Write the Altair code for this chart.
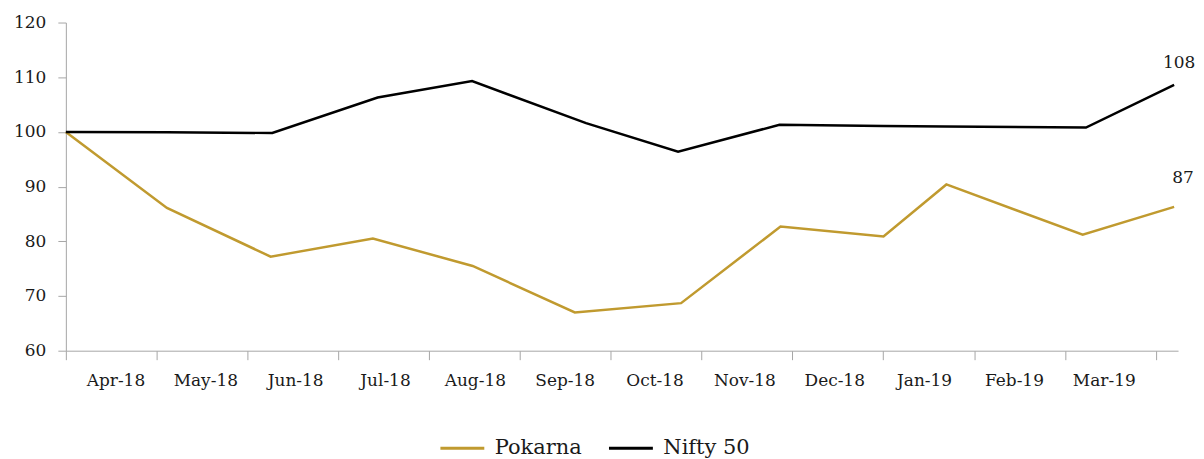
import altair as alt
import pandas as pd

# Month labels on the x axis (one per month interval)
months = ["Apr-18", "May-18", "Jun-18", "Jul-18", "Aug-18", "Sep-18",
          "Oct-18", "Nov-18", "Dec-18", "Jan-19", "Feb-19", "Mar-19"]

# Position of each observation, in months since the start of Apr-18
pokarna_t = [0, 1.113, 2.255, 3.381, 4.479, 5.604, 6.774, 7.869, 9.003, 9.695, 11.196, 12.203]
pokarna_v = [100, 86.1, 77.2, 80.5, 75.5, 67.0, 68.7, 82.7, 80.9, 90.4, 81.2, 86.3]

nifty_t = [0, 1.113, 2.273, 3.433, 4.473, 5.728, 6.741, 7.858, 9.0, 9.677, 11.232, 12.203]
nifty_v = [100, 99.95, 99.8, 106.3, 109.3, 101.6, 96.4, 101.3, 101.1, 101.0, 100.8, 108.6]

series = ["Pokarna", "Nifty 50"]
colors = ["#C09A2F", "#000000"]
end_labels = ["87", "108"]

y_ticks = [60, 70, 80, 90, 100, 110, 120]
x_ticks = list(range(13))
# month labels sit roughly in the middle of each month interval
x_label_pos = [round(0.546 + i * 0.9893, 4) for i in range(len(months))]

df = pd.DataFrame({
    "t": pokarna_t + nifty_t,
    "v": pokarna_v + nifty_v,
    "s": [series[0]] * len(pokarna_t) + [series[1]] * len(nifty_t),
})

last = pd.DataFrame({
    "t": [pokarna_t[-1], nifty_t[-1]],
    "v": [pokarna_v[-1], nifty_v[-1]],
    "s": series,
    "lab": end_labels,
})

FONT = "DejaVu Serif"
TXT = "#1a1a1a"
AX = "#A6A6A6"
label_expr = ("[" + ",".join("'" + m + "'" for m in months) + "]"
              "[round((datum.value - 0.546) / 0.9893)]")
x_scale = alt.Scale(domain=[0, 12.246], nice=False, zero=False)
y_scale = alt.Scale(domain=[60, 120], nice=False, zero=False)

tick_axis = alt.Axis(values=x_ticks, labels=False, tickSize=9, grid=False,
                     domainColor=AX, tickColor=AX, orient="bottom")
label_axis = alt.Axis(values=x_label_pos, labelExpr=label_expr, ticks=False, tickSize=0,
                      domain=False, grid=False, labelPadding=22, labelFlush=False,
                      labelOverlap=False, labelFont=FONT, labelFontSize=17,
                      labelColor=TXT, orient="bottom")

y_enc = alt.Y("v:Q", title=None, scale=y_scale,
              axis=alt.Axis(values=y_ticks, tickSize=8, labelPadding=12, grid=False,
                            domainColor=AX, tickColor=AX, labelFont=FONT,
                            labelFontSize=17, labelColor=TXT))

color_enc = alt.Color("s:N", title=None,
                      scale=alt.Scale(domain=series, range=colors),
                      sort=series,
                      legend=alt.Legend(orient="none", legendX=374, legendY=403,
                                        direction="horizontal", symbolType="stroke",
                                        symbolSize=1936, symbolStrokeWidth=3,
                                        labelFont=FONT, labelFontSize=21,
                                        labelColor=TXT, labelOffset=9,
                                        columnPadding=20, padding=0))

lines = alt.Chart(df).mark_line(strokeWidth=2.5).encode(
    x=alt.X("t:Q", title=None, scale=x_scale, axis=tick_axis),
    y=y_enc, color=color_enc)

txt_p = alt.Chart(last).transform_filter(alt.datum.s == series[0]).mark_text(
    font=FONT, fontSize=17, color=TXT, dx=9, dy=-29
).encode(x=alt.X("t:Q", title=None, scale=x_scale, axis=label_axis),
         y=y_enc, text="lab:N")

txt_n = alt.Chart(last).transform_filter(alt.datum.s == series[1]).mark_text(
    font=FONT, fontSize=17, color=TXT, dx=5, dy=-22
).encode(x=alt.X("t:Q", title=None, scale=x_scale, axis=None),
         y=y_enc, text="lab:N")

chart = alt.layer(lines, txt_p, txt_n).resolve_axis(x="independent").properties(
    width=1115, height=329,
    padding={"left": 5, "top": 5, "right": 0, "bottom": 0},
).configure_view(stroke=None)

chart.save("out.html", embed_options={"renderer": "svg", "actions": False})
